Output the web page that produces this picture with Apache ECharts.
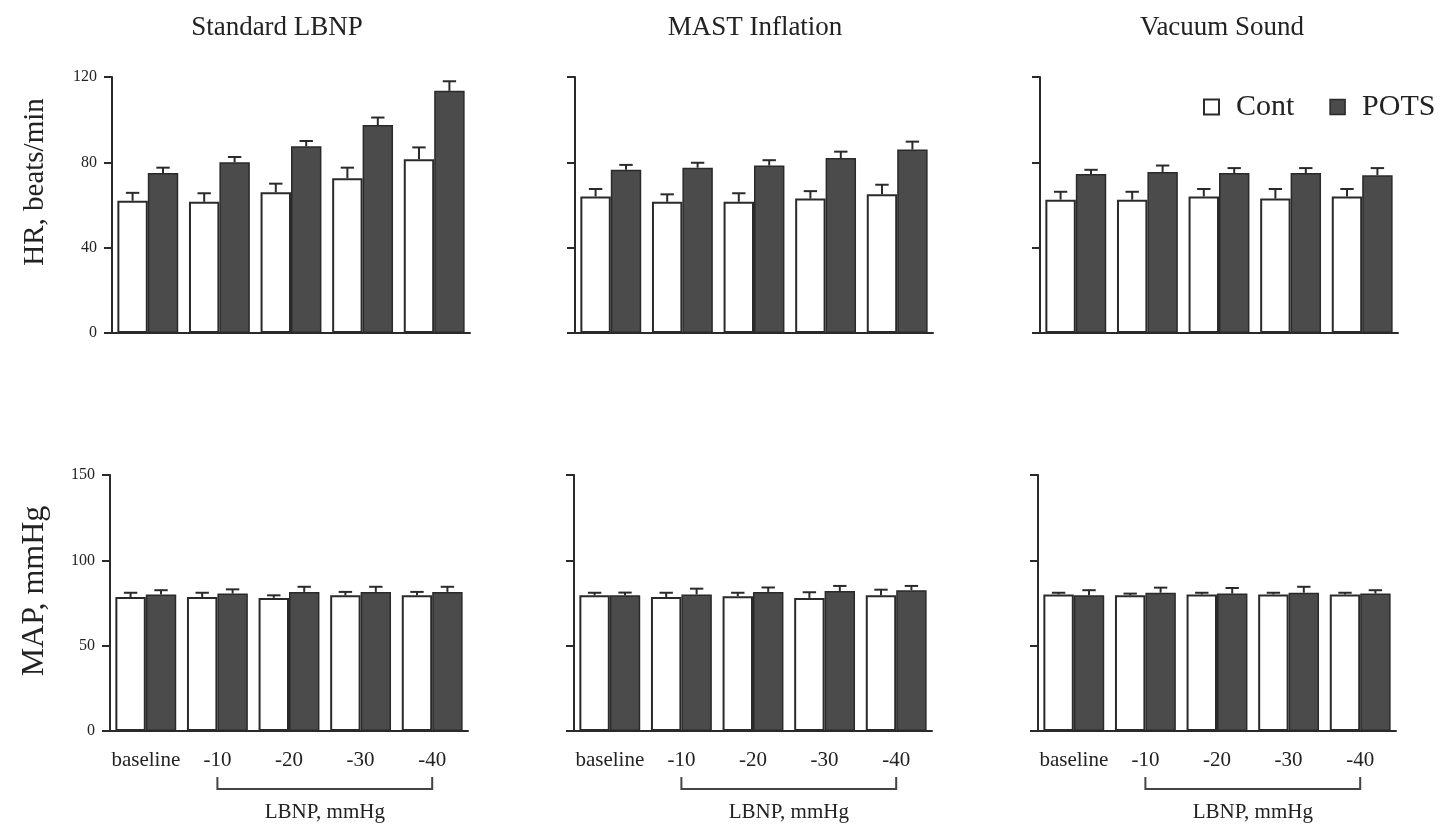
<!DOCTYPE html>
<html><head><meta charset="utf-8">
<script src="https://cdn.jsdelivr.net/npm/echarts@6/dist/echarts.min.js"></script>
<style>html,body{margin:0;padding:0;background:#fff}#c{width:1449px;height:833px}</style>
</head><body><div id="c"></div>
<script>
// ---- data ----
const categories = ['baseline', '-10', '-20', '-30', '-40'];
const panelTitles = ['Standard LBNP', 'MAST Inflation', 'Vacuum Sound'];
const seriesNames = ['Cont', 'POTS'];
const hrAxisName = 'HR, beats/min';
const mapAxisName = 'MAP, mmHg';
const bracketLabel = 'LBNP, mmHg';

// HR, beats/min (mean, +SE)
const hrStdCont = [62, 61.5, 66, 72.5, 81.5];
const hrStdContErr = [3.7, 4, 4, 5, 5.5];
const hrStdPots = [75, 80, 87.5, 97.5, 113.5];
const hrStdPotsErr = [2.5, 2.5, 2.5, 3.5, 4.5];
const hrMastCont = [64, 61.5, 61.5, 63, 65];
const hrMastContErr = [3.5, 3.5, 4, 3.5, 4.5];
const hrMastPots = [76.5, 77.5, 78.5, 82, 86];
const hrMastPotsErr = [2.3, 2.3, 2.5, 3, 3.7];
const hrVacCont = [62.5, 62.5, 64, 63, 64];
const hrVacContErr = [3.7, 3.7, 3.5, 4.5, 3.5];
const hrVacPots = [74.5, 75.5, 75, 75, 74];
const hrVacPotsErr = [2, 3, 2.3, 2.3, 3.3];

// MAP, mmHg (mean, +SE)
const mapStdCont = [78.5, 78.5, 78, 79.5, 79.5];
const mapStdContErr = [2.5, 2.5, 1.5, 2, 2];
const mapStdPots = [80, 80.5, 81.5, 81.5, 81.5];
const mapStdPotsErr = [2.5, 2.5, 3, 3, 3];
const mapMastCont = [79.5, 78.5, 79, 78, 79.5];
const mapMastContErr = [1.5, 2.5, 2, 3.3, 3.3];
const mapMastPots = [79.5, 80, 81.5, 82, 82.5];
const mapMastPotsErr = [1.6, 3.4, 2.6, 3, 2.5];
const mapVacCont = [80, 79.5, 80, 80, 80];
const mapVacContErr = [1, 1, 1, 1, 1];
const mapVacPots = [79.5, 81, 80.5, 81, 80.5];
const mapVacPotsErr = [3, 3, 3.3, 3.5, 2];

const hrTicks = { min: 0, max: 120, interval: 40 };
const mapTicks = { min: 0, max: 150, interval: 50 };

// ---- layout ----
const FONT = '"Liberation Serif", "Times New Roman", "DejaVu Serif", serif';
const INK = '#2a2a2a';
const DARK = '#4b4b4b';
const gridLefts = [[112, 575, 1040], [110, 574, 1038]];
const gridTops = [77, 475];
const gridW = 358, gridH = 256;
const titleCenters = [277, 755, 1222];

const panels = [
  { row: 0, col: 0, cont: hrStdCont, contErr: hrStdContErr, pots: hrStdPots, potsErr: hrStdPotsErr, ticks: hrTicks },
  { row: 0, col: 1, cont: hrMastCont, contErr: hrMastContErr, pots: hrMastPots, potsErr: hrMastPotsErr, ticks: hrTicks },
  { row: 0, col: 2, cont: hrVacCont, contErr: hrVacContErr, pots: hrVacPots, potsErr: hrVacPotsErr, ticks: hrTicks },
  { row: 1, col: 0, cont: mapStdCont, contErr: mapStdContErr, pots: mapStdPots, potsErr: mapStdPotsErr, ticks: mapTicks },
  { row: 1, col: 1, cont: mapMastCont, contErr: mapMastContErr, pots: mapMastPots, potsErr: mapMastPotsErr, ticks: mapTicks },
  { row: 1, col: 2, cont: mapVacCont, contErr: mapVacContErr, pots: mapVacPots, potsErr: mapVacPotsErr, ticks: mapTicks }
];

const CAT_GAP = 0.15;

function errRender(side) {
  return function (params, api) {
    const i = api.value(0), v = api.value(1), e = api.value(2);
    const band = api.size([1, 0])[0];
    const bw = band * (1 - CAT_GAP) / 2;
    const p0 = api.coord([i, v]);
    const p1 = api.coord([i, v + e]);
    const x = p0[0] + side * bw / 2;
    const cap = bw * 0.22;
    return {
      type: 'group',
      children: [
        { type: 'line', shape: { x1: x, y1: p0[1], x2: x, y2: p1[1] }, style: { stroke: INK, lineWidth: 2 } },
        { type: 'line', shape: { x1: x - cap, y1: p1[1], x2: x + cap, y2: p1[1] }, style: { stroke: INK, lineWidth: 2 } }
      ]
    };
  };
}

const grids = [], xAxes = [], yAxes = [], series = [];
panels.forEach((p, k) => {
  grids.push({ left: gridLefts[p.row][p.col], top: gridTops[p.row], width: gridW, height: gridH, containLabel: false });
  xAxes.push({
    type: 'category', gridIndex: k, data: categories,
    axisLine: { lineStyle: { color: INK, width: 2 } },
    axisTick: { show: false },
    axisLabel: { show: p.row === 1, interval: 0, color: '#222', fontFamily: FONT, fontSize: 21, margin: 19 },
    splitLine: { show: false }
  });
  yAxes.push({
    type: 'value', gridIndex: k, min: p.ticks.min, max: p.ticks.max, interval: p.ticks.interval,
    axisLine: { show: true, lineStyle: { color: INK, width: 2 } },
    axisTick: { show: true, inside: false, length: 8, lineStyle: { color: INK, width: 2 } },
    axisLabel: { show: p.col === 0, color: '#222', fontFamily: FONT, fontSize: 16, margin: 15 },
    splitLine: { show: false }
  });
  series.push({
    name: seriesNames[0], type: 'bar', xAxisIndex: k, yAxisIndex: k, data: p.cont,
    barGap: '0%', barCategoryGap: (CAT_GAP * 100) + '%',
    itemStyle: { color: '#ffffff', borderColor: INK, borderWidth: 2 },
    emphasis: { disabled: true }, z: 2
  });
  series.push({
    name: seriesNames[1], type: 'bar', xAxisIndex: k, yAxisIndex: k, data: p.pots,
    barGap: '0%', barCategoryGap: (CAT_GAP * 100) + '%',
    itemStyle: { color: DARK, borderColor: INK, borderWidth: 1.5 },
    emphasis: { disabled: true }, z: 2
  });
  series.push({
    name: seriesNames[0], type: 'custom', xAxisIndex: k, yAxisIndex: k,
    renderItem: errRender(-1), encode: { x: 0, y: 1 },
    data: categories.map((c, i) => [i, p.cont[i], p.contErr[i]]), z: 3, silent: true
  });
  series.push({
    name: seriesNames[1], type: 'custom', xAxisIndex: k, yAxisIndex: k,
    renderItem: errRender(1), encode: { x: 0, y: 1 },
    data: categories.map((c, i) => [i, p.pots[i], p.potsErr[i]]), z: 3, silent: true
  });
});

const chart = echarts.init(document.getElementById('c'), null, { renderer: 'canvas' });
chart.setOption({
  backgroundColor: '#ffffff',
  animation: false,
  title: panelTitles.map((t, i) => ({
    text: t, left: titleCenters[i], top: 14, textAlign: 'center', padding: 0,
    textStyle: { fontFamily: FONT, fontSize: 27, fontWeight: 'normal', color: '#222' }
  })),
  legend: {
    left: 1203, top: 92, padding: 0, orient: 'horizontal', icon: 'rect', itemWidth: 15, itemHeight: 15, itemGap: 35,
    selectedMode: false,
    textStyle: { fontFamily: FONT, fontSize: 30, color: '#222', padding: [0, 0, 0, 12] },
    data: [
      { name: seriesNames[0], itemStyle: { color: '#ffffff', borderColor: INK, borderWidth: 2 } },
      { name: seriesNames[1], itemStyle: { color: DARK, borderColor: INK, borderWidth: 1.5 } }
    ]
  },
  grid: grids, xAxis: xAxes, yAxis: yAxes, series: series
});

// annotations: y-axis names and LBNP brackets, placed from the axes
const graphics = [];
[[hrAxisName, 182, 29], [mapAxisName, 591, 32]].forEach(([txt, cy, fs]) => {
  graphics.push({
    type: 'text', x: 35, y: cy, rotation: Math.PI / 2, silent: true,
    style: { text: txt, font: fs + 'px ' + FONT, fill: '#222', align: 'center', verticalAlign: 'middle', textAlign: 'center', textVerticalAlign: 'middle' }
  });
});
[3, 4, 5].forEach(k => {
  const x1 = chart.convertToPixel({ xAxisIndex: k }, categories[1]);
  const x2 = chart.convertToPixel({ xAxisIndex: k }, categories[4]);
  const y0 = chart.convertToPixel({ yAxisIndex: k }, 0);
  const yb = y0 + 58, yt = y0 + 46;
  graphics.push({
    type: 'polyline', silent: true,
    shape: { points: [[x1, yt], [x1, yb], [x2, yb], [x2, yt]] },
    style: { stroke: '#444', lineWidth: 2, fill: null }
  });
  graphics.push({
    type: 'text', x: (x1 + x2) / 2, y: y0 + 81, silent: true,
    style: { text: bracketLabel, font: '21px ' + FONT, fill: '#222', align: 'center', verticalAlign: 'middle', textAlign: 'center', textVerticalAlign: 'middle' }
  });
});
chart.setOption({ graphic: graphics });
</script>
</body></html>
